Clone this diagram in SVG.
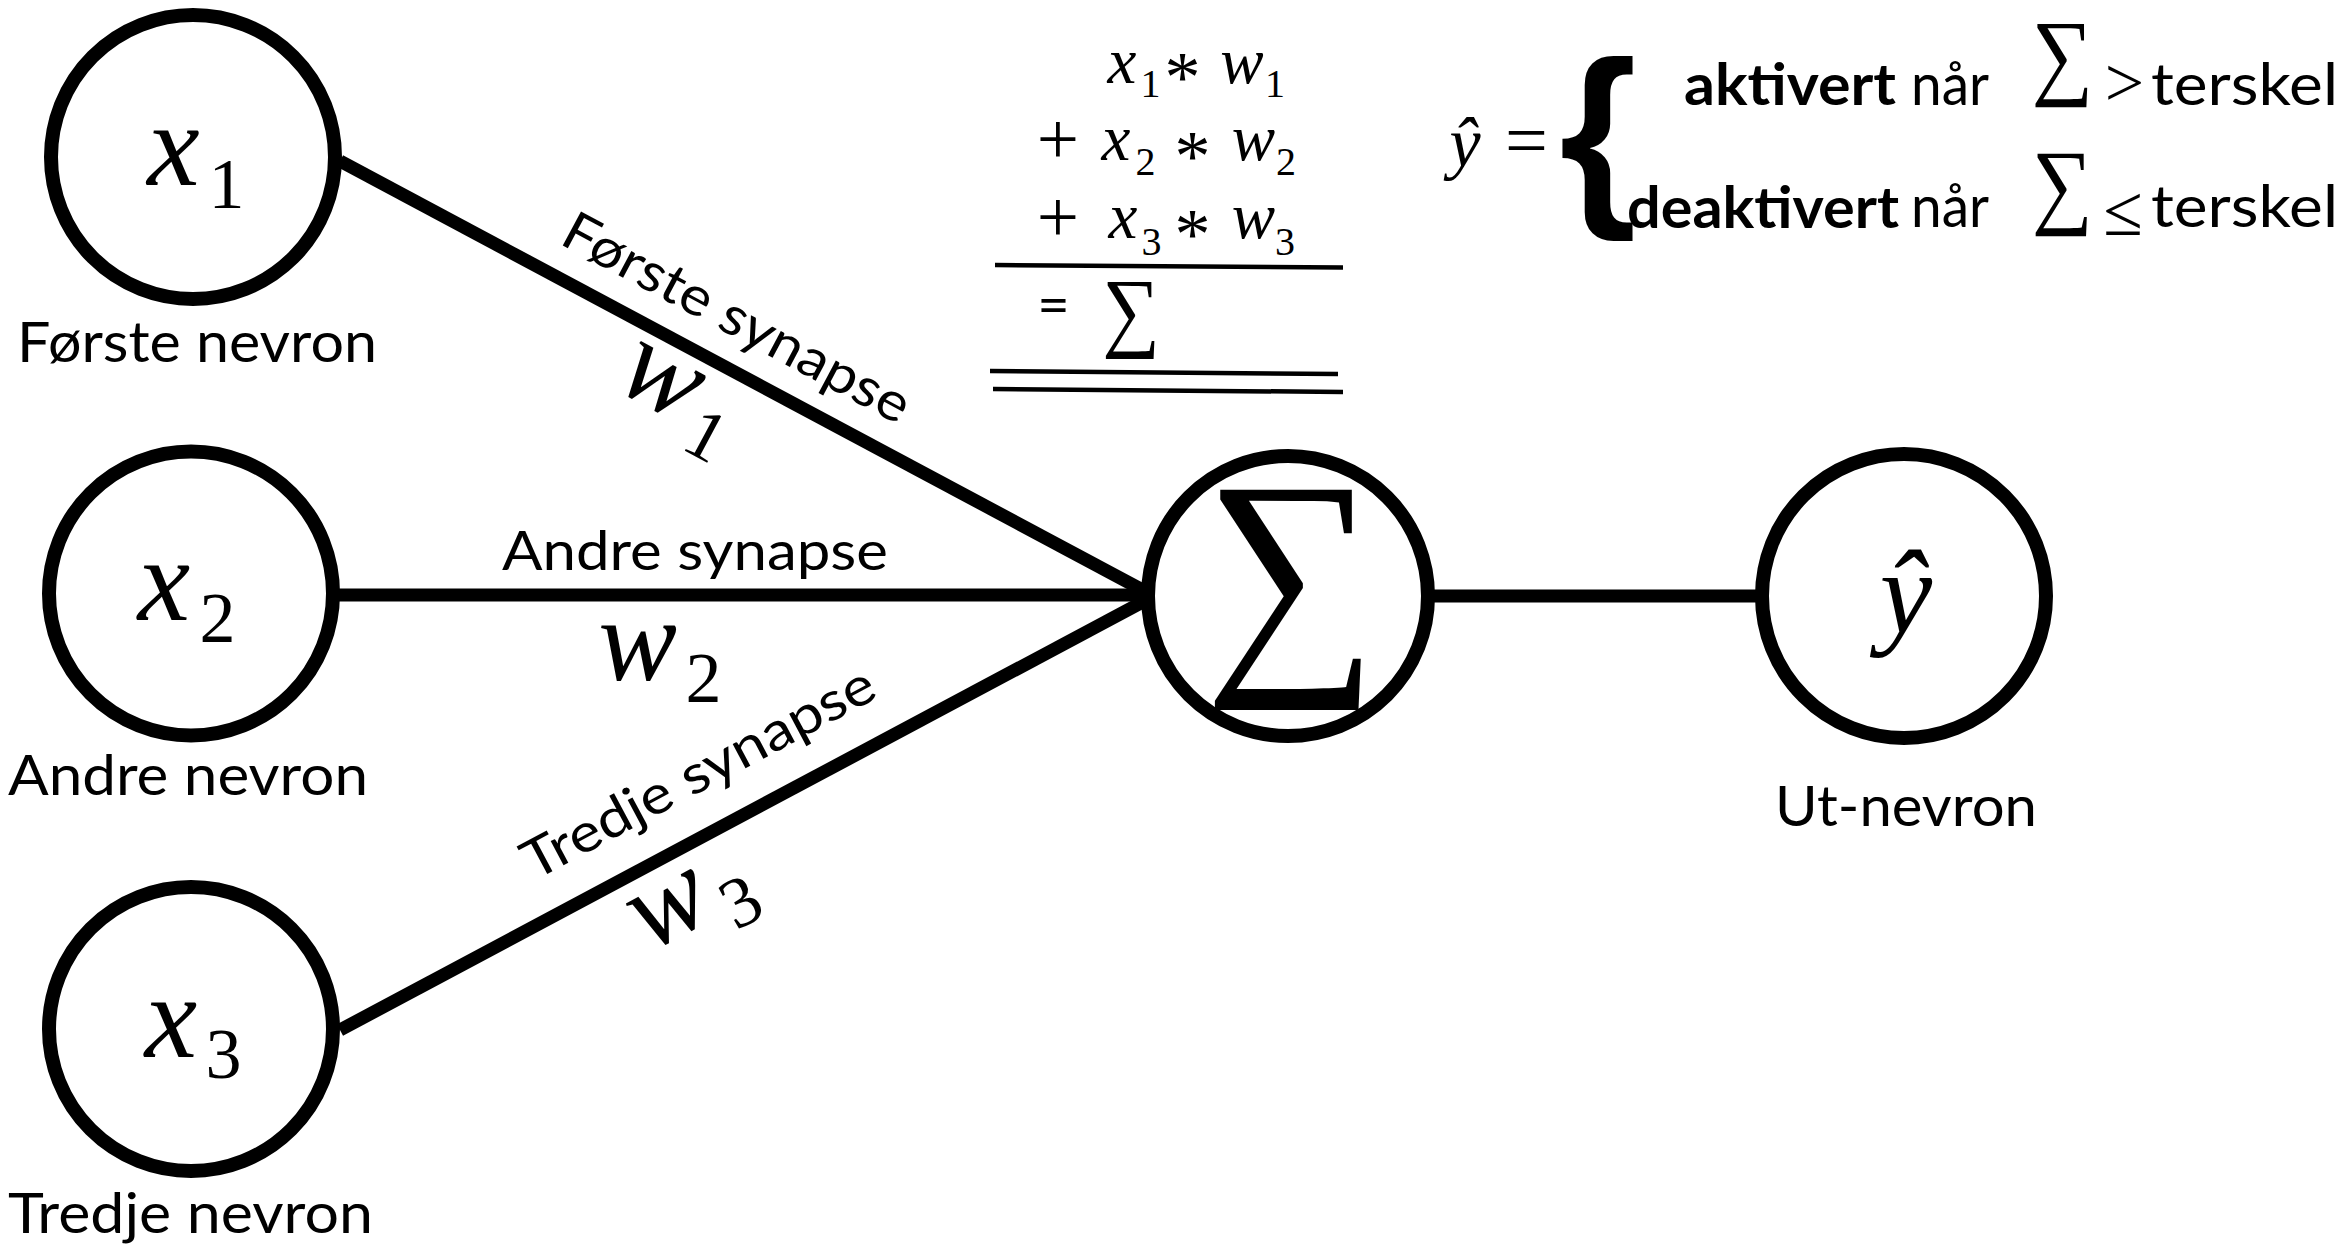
<svg xmlns="http://www.w3.org/2000/svg" width="2343" height="1246" viewBox="0 0 2343 1246">
<style>
.node circle{fill:#fff;stroke:#000;stroke-width:14}
.conn line{stroke:#000;stroke-width:13;stroke-linecap:butt}
.rule{stroke:#000;stroke-width:4.5}
.sans{font-family:Lato,"Open Sans","Liberation Sans",sans-serif;fill:#000}
.lbl{font-size:56px}
.syn{font-size:54px}
.row{font-size:58px}
.b{font-weight:bold}
.mi{font-family:"Liberation Serif","DejaVu Serif",serif;font-style:italic;fill:#000}
.mn{font-family:"Liberation Serif","DejaVu Serif",serif;font-style:normal;fill:#000}
.big{font-size:118px}
.sub{font-size:72px;font-style:normal}
.ex{font-size:65px}
.exs{font-size:40px;font-style:normal}
.ast{font-size:72px;font-style:normal}
</style>
<rect width="2343" height="1246" fill="#fff"/>

<g id="connectors" class="conn">
  <line x1="340" y1="161" x2="1152" y2="595"/>
  <line x1="330" y1="595" x2="1152" y2="595"/>
  <line x1="340" y1="1030" x2="1152" y2="597"/>
  <line x1="1420" y1="596" x2="1770" y2="596"/>
</g>

<g id="connector-labels">
  <text class="sans syn" transform="translate(558,243) rotate(28.13)" textLength="386" lengthAdjust="spacingAndGlyphs">Første synapse</text>
  <text class="sans syn" x="502" y="570" textLength="386" lengthAdjust="spacingAndGlyphs">Andre synapse</text>
  <text class="sans syn" transform="translate(534,881) rotate(-28.07)" textLength="392" lengthAdjust="spacingAndGlyphs">Tredje synapse</text>
  <g transform="translate(616,389) rotate(28.13)">
    <text class="mi" text-anchor="middle"><tspan class="big" x="35.5" y="0">w</tspan><tspan class="sub" x="101.5" y="22">1</tspan></text>
  </g>
  <text class="mi" text-anchor="middle"><tspan class="big" x="637.5" y="680">w</tspan><tspan class="sub" x="703.5" y="702">2</tspan></text>
  <g transform="translate(652,951) rotate(-28.07)">
    <text class="mi" text-anchor="middle"><tspan class="big" x="35.5" y="0">w</tspan><tspan class="sub" x="101.5" y="22">3</tspan></text>
  </g>
</g>

<g id="node-x1" class="node">
  <circle cx="193" cy="157" r="142"/>
  <text class="mi" text-anchor="middle"><tspan class="big" x="173.5" y="185">x</tspan><tspan class="sub" x="226.5" y="208">1</tspan></text>
  <text class="sans lbl" x="17" y="362" textLength="360" lengthAdjust="spacingAndGlyphs">Første nevron</text>
</g>
<g id="node-x2" class="node">
  <circle cx="191" cy="593.5" r="142"/>
  <text class="mi" text-anchor="middle"><tspan class="big" x="164" y="620">x</tspan><tspan class="sub" x="217.5" y="642">2</tspan></text>
  <text class="sans lbl" x="8" y="795" textLength="360" lengthAdjust="spacingAndGlyphs">Andre nevron</text>
</g>
<g id="node-x3" class="node">
  <circle cx="191" cy="1029" r="142"/>
  <text class="mi" text-anchor="middle"><tspan class="big" x="171" y="1057">x</tspan><tspan class="sub" x="223.5" y="1078">3</tspan></text>
  <text class="sans lbl" x="8" y="1233" textLength="365" lengthAdjust="spacingAndGlyphs">Tredje nevron</text>
</g>
<g id="node-sum" class="node">
  <circle cx="1288" cy="596" r="140"/>
  <text class="mn" transform="translate(1291,656) scale(0.96,1)" text-anchor="middle" style="font-size:254px">∑</text>
</g>
<g id="node-out" class="node">
  <circle cx="1904" cy="596" r="142"/>
  <text class="mi" x="1906" y="633" text-anchor="middle" style="font-size:118px">ŷ</text>
  <text class="sans lbl" x="1775" y="826" textLength="262" lengthAdjust="spacingAndGlyphs">Ut-nevron</text>
</g>

<g id="sum-formula">
  <text class="mi" text-anchor="middle">
    <tspan class="ex" x="1122" y="83">x</tspan><tspan class="exs" x="1152.5" y="97">1</tspan>
    <tspan class="ast" x="1184.5" y="101">*</tspan>
    <tspan class="ex" x="1242" y="83">w</tspan><tspan class="exs" x="1275" y="97">1</tspan>
  </text>
  <text class="mi" text-anchor="middle">
    <tspan class="mn" style="font-size:75px" x="1060" y="164">+</tspan>
    <tspan class="ex" x="1116" y="160">x</tspan><tspan class="exs" x="1147.5" y="175">2</tspan>
    <tspan class="ast" x="1194.5" y="180">*</tspan>
    <tspan class="ex" x="1253.5" y="160">w</tspan><tspan class="exs" x="1286" y="175">2</tspan>
  </text>
  <text class="mi" text-anchor="middle">
    <tspan class="mn" style="font-size:75px" x="1060" y="242">+</tspan>
    <tspan class="ex" x="1123" y="238">x</tspan><tspan class="exs" x="1153.5" y="255">3</tspan>
    <tspan class="ast" x="1194.5" y="258">*</tspan>
    <tspan class="ex" x="1253.5" y="238">w</tspan><tspan class="exs" x="1285" y="255">3</tspan>
  </text>
  <line class="rule" x1="995" y1="265" x2="1343" y2="267.5"/>
  <text class="sans" x="1053.5" y="324" text-anchor="middle" style="font-size:56px">=</text>
  <text class="mn" transform="translate(1131,339.5) scale(0.91,1)" text-anchor="middle" style="font-size:89px">∑</text>
  <line class="rule" x1="990" y1="371" x2="1338" y2="374"/>
  <line class="rule" x1="993" y1="389" x2="1343" y2="392"/>
</g>

<g id="activation-formula">
  <text class="mi" x="1465" y="166" text-anchor="middle" style="font-size:70px">ŷ</text>
  <text class="mn" x="1526.5" y="166" text-anchor="middle" style="font-size:76px">=</text>
  <text class="sans b" x="1598" y="200" text-anchor="middle" style="font-size:199px;font-family:'Liberation Sans',sans-serif">{</text>
  <text class="sans row b" x="1684" y="105" textLength="212" lengthAdjust="spacingAndGlyphs">aktivert</text>
  <text class="sans row" x="1911" y="105" textLength="78" lengthAdjust="spacingAndGlyphs">når</text>
  <text class="mn" transform="translate(2062.5,87) scale(0.9,1)" text-anchor="middle" style="font-size:96px">∑</text>
  <text class="mn" x="2124.5" y="106" text-anchor="middle" style="font-size:70px">&gt;</text>
  <text class="sans row" x="2151" y="105" textLength="187" lengthAdjust="spacingAndGlyphs">terskel</text>
  <text class="sans row b" x="1627" y="228" textLength="272" lengthAdjust="spacingAndGlyphs">deaktivert</text>
  <text class="sans row" x="1911" y="227" textLength="78" lengthAdjust="spacingAndGlyphs">når</text>
  <text class="mn" transform="translate(2062.5,215.5) scale(0.9,1)" text-anchor="middle" style="font-size:95px">∑</text>
  <text class="mn" x="2123" y="235" text-anchor="middle" style="font-size:72px">≤</text>
  <text class="sans row" x="2151" y="227" textLength="187" lengthAdjust="spacingAndGlyphs">terskel</text>
</g>
</svg>
